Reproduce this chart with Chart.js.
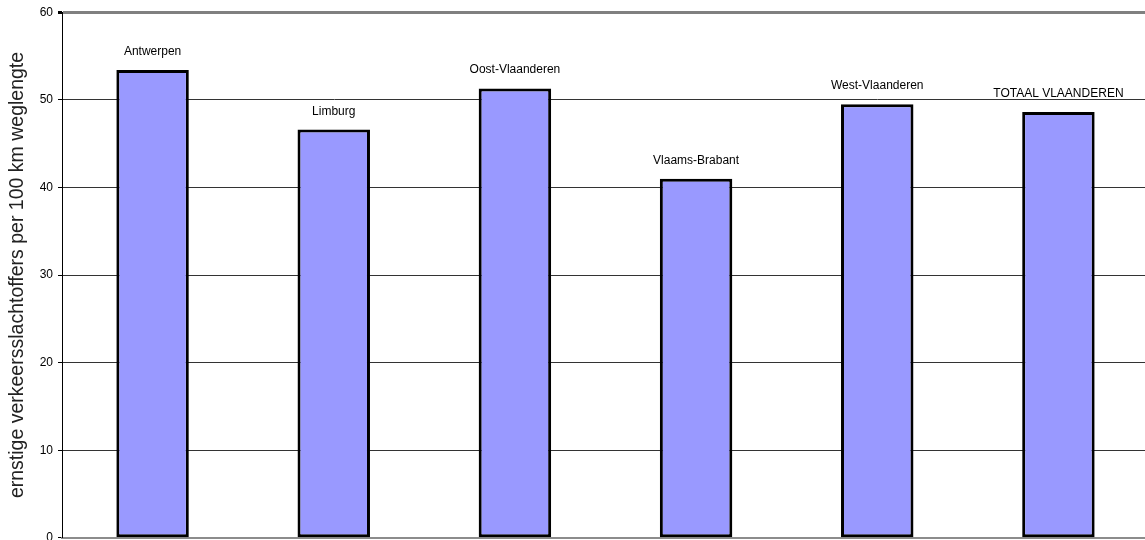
<!DOCTYPE html>
<html>
<head>
<meta charset="utf-8">
<script src="https://cdn.jsdelivr.net/npm/chart.js@4/dist/chart.umd.min.js"></script>
<style>
  html, body { margin: 0; padding: 0; background: #fff; overflow: hidden; }
  #wrap { width: 1149px; height: 550px; }
</style>
</head>
<body>
<div id="wrap"><canvas id="chart"></canvas></div>
<script>
// provinces and victims per 100 km road length
const categories = ["Antwerpen", "Limburg", "Oost-Vlaanderen", "Vlaams-Brabant", "West-Vlaanderen", "TOTAAL VLAANDEREN"];
const values = [53.4, 46.6, 51.3, 41.0, 49.5, 48.6];
const yTicks = [0, 10, 20, 30, 40, 50, 60];

// draws the category name above each bar
const barLabels = {
    id: "barLabels",
    afterDatasetsDraw(chart) {
        const ctx = chart.ctx;
        const meta = chart.getDatasetMeta(0);
        ctx.save();
        ctx.font = "12px 'Liberation Sans', Arial, sans-serif";
        ctx.fillStyle = "#000";
        ctx.textAlign = "center";
        ctx.textBaseline = "alphabetic";
        meta.data.forEach((bar, i) => {
            ctx.fillText(categories[i], bar.x, bar.y - 15);
        });
        ctx.restore();
    }
};

new Chart(document.getElementById("chart"), {
    type: "bar",
    data: {
        labels: categories,
        datasets: [{
            data: values,
            backgroundColor: "#9999ff",
            borderColor: "#000",
            borderWidth: 3,
            borderSkipped: false,
            barPercentage: 0.4,
            categoryPercentage: 1
        }]
    },
    options: {
        responsive: true,
        maintainAspectRatio: false,
        animation: false,
        layout: { padding: { top: 12, bottom: 3, left: 0, right: 0 } },
        plugins: {
            legend: { display: false },
            tooltip: { enabled: false }
        },
        scales: {
            x: {
                grid: { display: false },
                ticks: { display: false },
                border: { color: "#8c8c8c", width: 2 },
                afterFit(scale) { scale.height = 0; }
            },
            y: {
                min: 0,
                max: 60,
                afterBuildTicks(scale) { scale.ticks = yTicks.map(v => ({ value: v })); },
                ticks: {
                    color: "#000",
                    padding: 5,
                    font: { family: "'Liberation Sans', Arial, sans-serif", size: 12 }
                },
                grid: {
                    color: ctx => ctx.tick && ctx.tick.value === 60 ? "#808080" : "#333",
                    lineWidth: ctx => ctx.tick && ctx.tick.value === 60 ? 3 : 1,
                    tickColor: "#000",
                    tickLength: 4
                },
                border: { color: "#000", width: 1 },
                title: {
                    display: true,
                    text: "ernstige verkeersslachtoffers per 100 km weglengte",
                    color: "#222",
                    font: { family: "'Liberation Sans', Arial, sans-serif", size: 19.5 },
                    padding: { top: 6, bottom: 0 }
                },
                afterFit(scale) { scale.width = 62; }
            }
        }
    },
    plugins: [barLabels]
});
</script>
</body>
</html>
